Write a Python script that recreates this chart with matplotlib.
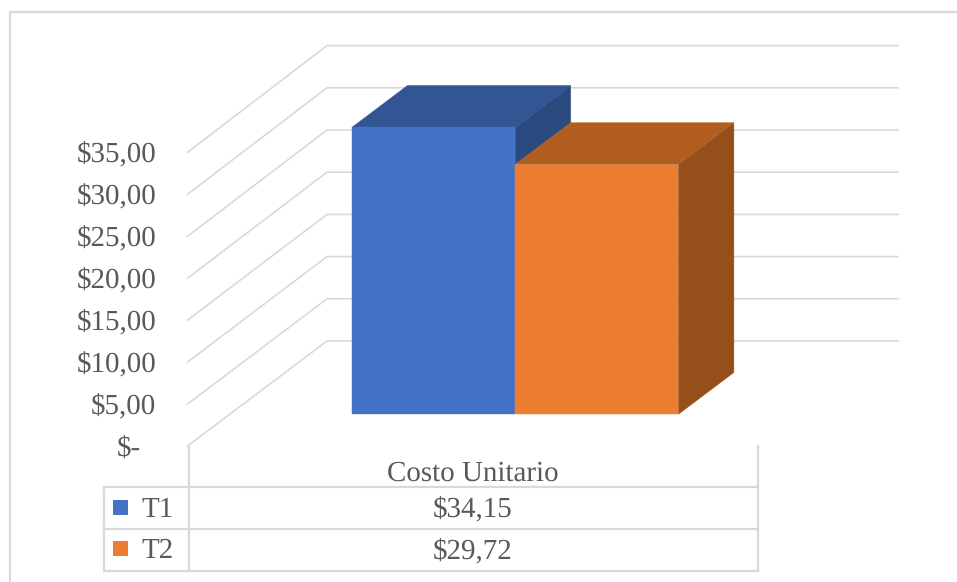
# -*- coding: utf-8 -*-
# 3D style clustered column chart with a data table underneath

import matplotlib.pyplot as plt
from matplotlib.patches import Polygon, Rectangle

# data
series_names = ["T1", "T2"]
unit_cost = [34.15, 29.72]
value_labels = ["$34,15", "$29,72"]
category = "Costo Unitario"
tick_values = [0, 5, 10, 15, 20, 25, 30, 35]
tick_labels = ["$-", "$5,00", "$10,00", "$15,00", "$20,00", "$25,00", "$30,00", "$35,00"]

# colours for front, top and side of each column
front_colors = ["#4472C4", "#ED7D31"]
top_colors = ["#335593", "#B25E21"]
side_colors = ["#2A4A80", "#964F1B"]
grid_color = "#D9D9D9"
text_color = "#595959"

# pixel layout of the plot box
front_zero, front_scale = 446.0, 8.39
back_zero, back_scale = 341.0, 8.44
bar_zero, bar_scale = 414.3, 8.405
wall_left, wall_back, wall_right = 187.5, 327.0, 898.0
bar_left, bar_width = 352.0, 163.2
depth_x, depth_y = 55.5, -41.8

plt.rcParams["font.family"] = ["Liberation Serif", "DejaVu Serif"]
plt.rcParams["text.hinting"] = "no_hinting"
plt.rcParams["text.hinting_factor"] = 1

fig = plt.figure(figsize=(9.57, 5.82), dpi=100)
ax = fig.add_axes([0, 0, 1, 1])
ax.set_xlim(0, 957)
ax.set_ylim(582, 0)
ax.axis("off")

# outer border of the chart area
ax.plot([10, 10, 957], [582, 12, 12], color=grid_color, lw=1.6, zorder=1)

# gridlines running along the side wall and the back wall
for v, label in zip(tick_values, tick_labels):
    y_front = front_zero - front_scale * v
    y_back = back_zero - back_scale * v
    ax.plot([wall_left, wall_back, wall_right], [y_front, y_back, y_back],
            color=grid_color, lw=1.2, zorder=1)
    right_edge = 156 if v > 0 else 141
    ax.text(right_edge, y_front + 9.5, label, ha="right", va="baseline",
            fontsize=21.2, color=text_color)

# columns, a side face stops where the next column's top starts
for i, val in enumerate(unit_cost):
    x0 = bar_left + i * bar_width
    x1 = x0 + bar_width
    top = bar_zero - bar_scale * val
    if i + 1 < len(unit_cost):
        base = bar_zero - bar_scale * unit_cost[i + 1]
    else:
        base = bar_zero
    side = [(x1, base), (x1 + depth_x, base + depth_y),
            (x1 + depth_x, top + depth_y), (x1, top)]
    roof = [(x0, top), (x1, top), (x1 + depth_x, top + depth_y),
            (x0 + depth_x, top + depth_y)]
    ax.add_patch(Polygon(side, closed=True, facecolor=side_colors[i],
                         edgecolor=side_colors[i], lw=0.3, zorder=2 + i))
    ax.add_patch(Polygon(roof, closed=True, facecolor=top_colors[i],
                         edgecolor=top_colors[i], lw=0.3, zorder=2 + i))
    ax.add_patch(Rectangle((x0, top), bar_width, bar_zero - top, facecolor=front_colors[i],
                           edgecolor=front_colors[i], lw=0.3, zorder=2 + i))

# data table
table_left, table_split, table_right = 104.0, 188.5, 758.0
row_lines = [487.3, 528.8, 570.5]
for y in row_lines:
    ax.plot([table_left, table_right], [y, y], color=grid_color, lw=1.6, zorder=1)
ax.plot([table_left, table_left], [row_lines[0], row_lines[-1]], color=grid_color, lw=1.6, zorder=1)
ax.plot([table_split, table_split], [front_zero, row_lines[-1]], color=grid_color, lw=1.6, zorder=1)
ax.plot([table_right, table_right], [front_zero, row_lines[-1]], color=grid_color, lw=1.6, zorder=1)

table_center = (table_split + table_right) / 2 - 0.5
ax.text(table_center, 481, category, ha="center", va="baseline", fontsize=21.2, color=text_color)

row_baselines = [516.8, 558.2]
swatch_tops = [500, 541]
for i, name in enumerate(series_names):
    ax.add_patch(Rectangle((113, swatch_tops[i]), 15, 15, facecolor=front_colors[i],
                           edgecolor="none", zorder=3))
    ax.text(141.5, row_baselines[i], name, ha="left", va="baseline", fontsize=21.2, color=text_color)
    ax.text(table_center, row_baselines[i], value_labels[i], ha="center", va="baseline",
            fontsize=21.2, color=text_color)

plt.savefig("out.png", dpi=100)
